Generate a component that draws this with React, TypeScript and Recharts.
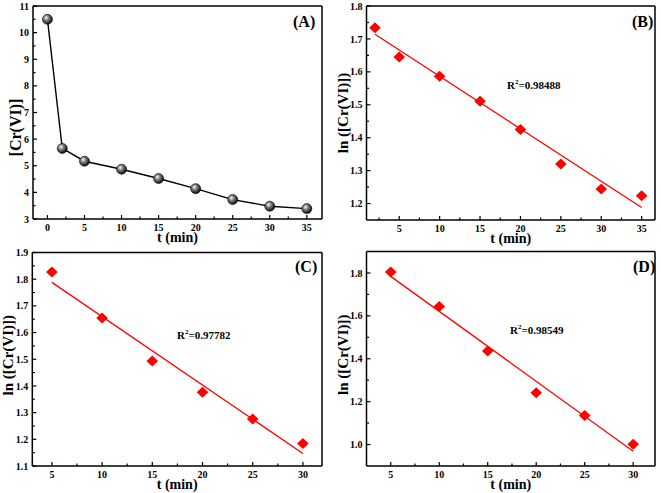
import React from 'react';
import { ScatterChart, Scatter, XAxis, YAxis, ReferenceLine } from 'recharts';

// (A) concentration vs time
const tA = [0, 2, 5, 10, 15, 20, 25, 30, 35];
const crA = [10.5, 5.65, 5.17, 4.87, 4.52, 4.14, 3.73, 3.48, 3.39];

// (B) ln[Cr(VI)] vs time
const tB = [2, 5, 10, 15, 20, 25, 30, 35];
const lnB = [1.734, 1.645, 1.587, 1.511, 1.425, 1.32, 1.244, 1.224];
const fitTB = [2, 35];
const fitLnB = [1.714, 1.188];

// (C)
const tC = [5, 10, 15, 20, 25, 30];
const lnC = [1.827, 1.655, 1.493, 1.376, 1.276, 1.184];
const fitTC = [5, 30];
const fitLnC = [1.788, 1.147];

// (D)
const tD = [5, 10, 15, 20, 25, 30];
const lnD = [1.805, 1.644, 1.436, 1.242, 1.136, 1.001];
const fitTD = [5, 30];
const fitLnD = [1.784, 0.969];

const xLabelsA = [0, 5, 10, 15, 20, 25, 30, 35];
const xMinorA = [2.5, 7.5, 12.5, 17.5, 22.5, 27.5, 32.5];
const yLabelsA = [3, 4, 5, 6, 7, 8, 9, 10, 11];
const yMinorA = [3.5, 4.5, 5.5, 6.5, 7.5, 8.5, 9.5, 10.5];

const xLabelsB = [5, 10, 15, 20, 25, 30, 35];
const xMinorB = [2.5, 7.5, 12.5, 17.5, 22.5, 27.5, 32.5];
const yLabelsB = [1.2, 1.3, 1.4, 1.5, 1.6, 1.7, 1.8];
const yMinorB = [1.25, 1.35, 1.45, 1.55, 1.65, 1.75];

const xLabelsC = [5, 10, 15, 20, 25, 30];
const xMinorC = [7.5, 12.5, 17.5, 22.5, 27.5];
const yLabelsC = [1.1, 1.2, 1.3, 1.4, 1.5, 1.6, 1.7, 1.8, 1.9];
const yMinorC = [1.15, 1.25, 1.35, 1.45, 1.55, 1.65, 1.75, 1.85];

const xLabelsD = [5, 10, 15, 20, 25, 30];
const xMinorD = [7.5, 12.5, 17.5, 22.5, 27.5];
const yLabelsD = [1.0, 1.2, 1.4, 1.6, 1.8];
const yMinorD = [1.1, 1.3, 1.5, 1.7];

const FONT = '"Liberation Serif", "Times New Roman", serif';
const RED = '#ff0000';

const zip = (xs: number[], ys: number[]) => xs.map((x, i) => ({ x, y: ys[i] }));

const Sphere = (p: any) => (
  <g>
    <defs>
      <radialGradient id="sphere" cx="38%" cy="35%" r="65%">
        <stop offset="0%" stopColor="#ffffff" />
        <stop offset="35%" stopColor="#8a8a8a" />
        <stop offset="100%" stopColor="#0a0a0a" />
      </radialGradient>
    </defs>
    <circle cx={p.cx} cy={p.cy} r={5} fill="url(#sphere)" stroke="#000" strokeWidth={0.6} />
  </g>
);

const Diamond = (p: any) => (
  <polygon
    points={`${p.cx},${p.cy - 5.5} ${p.cx + 5.8},${p.cy} ${p.cx},${p.cy + 5.5} ${p.cx - 5.8},${p.cy}`}
    fill={RED}
  />
);

const fmt = (v: number, digits: number) => v.toFixed(digits);

const makeXTick = (labels: number[]) => (p: any) => {
  const axisY = p.y - 8;
  const major = labels.includes(p.payload.value);
  return (
    <g>
      <line x1={p.x} x2={p.x} y1={axisY} y2={axisY - (major ? 4 : 2.5)} stroke="#000" strokeWidth={1.2} />
      {major && (
        <text x={p.x} y={axisY + 12} textAnchor="middle" fontFamily={FONT} fontWeight="bold" fontSize={10} fill="#000">
          {p.payload.value}
        </text>
      )}
    </g>
  );
};

const makeYTick = (labels: number[], digits: number) => (p: any) => {
  const axisX = p.x + 4;
  const v = p.payload.value;
  const major = labels.some((l) => Math.abs(l - v) < 1e-6);
  return (
    <g>
      <line x1={axisX} x2={axisX + (major ? 4 : 2.5)} y1={p.y} y2={p.y} stroke="#000" strokeWidth={1.2} />
      {major && (
        <text x={p.x} y={p.y + 3.6} textAnchor="end" fontFamily={FONT} fontWeight="bold" fontSize={10} fill="#000">
          {fmt(v, digits)}
        </text>
      )}
    </g>
  );
};

type PanelProps = {
  width: number;
  height: number;
  margin: { top: number; right: number; bottom: number; left: number };
  xDomain: [number, number];
  yDomain: [number, number];
  xLabels: number[];
  xMinor: number[];
  yLabels: number[];
  yMinor: number[];
  yDigits: number;
  yTitle: string;
  yTitleSize: number;
  yTitleX: number;
  yTitleShift: number;
  points: { x: number; y: number }[];
  fit?: { x: number; y: number }[];
  sphere?: boolean;
};

function Panel(props: PanelProps) {
  const { margin, xDomain, yDomain } = props;
  return (
    <ScatterChart
      width={props.width}
      height={props.height}
      margin={{ top: margin.top, right: margin.right, bottom: 0, left: 0 }}
    >
      <XAxis
        type="number"
        dataKey="x"
        domain={xDomain}
        allowDataOverflow
        ticks={[...props.xLabels, ...props.xMinor].sort((a, b) => a - b)}
        interval={0}
        tickSize={0}
        tickMargin={8}
        tick={makeXTick(props.xLabels)}
        tickLine={false}
        height={margin.bottom}
        axisLine={{ stroke: '#000', strokeWidth: 1.5 }}
        label={{
          content: (l: any) => {
            const vb = l.viewBox;
            return (
              <text
                x={vb.x + vb.width / 2}
                y={vb.y + 23}
                textAnchor="middle"
                fontFamily={FONT}
                fontWeight="bold"
                fontSize={14}
                fill="#000"
              >
                t (min)
              </text>
            );
          },
        }}
      />
      <YAxis
        type="number"
        dataKey="y"
        domain={yDomain}
        allowDataOverflow
        ticks={[...props.yLabels, ...props.yMinor].sort((a, b) => a - b)}
        interval={0}
        tickSize={0}
        tickMargin={4}
        tick={makeYTick(props.yLabels, props.yDigits)}
        tickLine={false}
        width={margin.left}
        axisLine={{ stroke: '#000', strokeWidth: 1.5 }}
        label={{
          content: (l: any) => {
            const vb = l.viewBox;
            const cx = props.yTitleX;
            const cy = vb.y + vb.height / 2 + props.yTitleShift;
            return (
              <text
                x={cx}
                y={cy}
                transform={`rotate(-90 ${cx} ${cy})`}
                textAnchor="middle"
                dominantBaseline="central"
                fontFamily={FONT}
                fontWeight="bold"
                fontSize={props.yTitleSize}
                fill="#000"
              >
                {props.yTitle}
              </text>
            );
          },
        }}
      />
      <ReferenceLine y={yDomain[1]} stroke="#000" strokeWidth={1.5} />
      <ReferenceLine x={xDomain[1]} stroke="#000" strokeWidth={1.5} />
      {props.fit && (
        <Scatter
          data={props.fit}
          line={{ stroke: RED, strokeWidth: 1.3 }}
          shape={() => <g />}
          isAnimationActive={false}
        />
      )}
      {props.sphere ? (
        <Scatter
          data={props.points}
          line={{ stroke: '#000', strokeWidth: 1.4 }}
          shape={Sphere}
          isAnimationActive={false}
        />
      ) : (
        <Scatter data={props.points} shape={Diamond} isAnimationActive={false} />
      )}
    </ScatterChart>
  );
}

const tagStyle: React.CSSProperties = {
  position: 'absolute',
  fontFamily: FONT,
  fontWeight: 'bold',
  fontSize: 16,
  lineHeight: '16px',
  color: '#000',
};

const r2Style: React.CSSProperties = {
  position: 'absolute',
  fontFamily: FONT,
  fontWeight: 'bold',
  fontSize: 11,
  lineHeight: '12px',
  color: '#000',
  whiteSpace: 'nowrap',
};

const R2 = ({ v }: { v: string }) => (
  <>
    R<sup style={{ fontSize: 7, verticalAlign: 'top', lineHeight: '7px' }}>2</sup>={v}
  </>
);

export default function App() {
  return (
    <div style={{ position: 'absolute', left: 0, top: 0, width: 661, height: 493, background: '#fff' }}>
      <div style={{ position: 'absolute', left: 0, top: 0 }}>
        <Panel
          width={330}
          height={250}
          margin={{ top: 6, right: 8, bottom: 31, left: 33 }}
          xDomain={[-1.95, 37.05]}
          yDomain={[3, 11]}
          xLabels={xLabelsA}
          xMinor={xMinorA}
          yLabels={yLabelsA}
          yMinor={yMinorA}
          yDigits={0}
          yTitle="[Cr(VI)]"
          yTitleSize={16}
          yTitleX={15}
          yTitleShift={15}
          points={zip(tA, crA)}
          sphere
        />
      </div>
      <div style={{ position: 'absolute', left: 330, top: 0 }}>
        <Panel
          width={331}
          height={250}
          margin={{ top: 6, right: 6, bottom: 30, left: 36.5 }}
          xDomain={[0.95, 36.65]}
          yDomain={[1.15, 1.8]}
          xLabels={xLabelsB}
          xMinor={xMinorB}
          yLabels={yLabelsB}
          yMinor={yMinorB}
          yDigits={1}
          yTitle="ln ([Cr(VI)])"
          yTitleSize={15}
          yTitleX={12.5}
          yTitleShift={0}
          points={zip(tB, lnB)}
          fit={zip(fitTB, fitLnB)}
        />
      </div>
      <div style={{ position: 'absolute', left: 0, top: 245 }}>
        <Panel
          width={330}
          height={248}
          margin={{ top: 7.5, right: 8, bottom: 27, left: 32.3 }}
          xDomain={[3.05, 31.9]}
          yDomain={[1.1, 1.9]}
          xLabels={xLabelsC}
          xMinor={xMinorC}
          yLabels={yLabelsC}
          yMinor={yMinorC}
          yDigits={1}
          yTitle="ln ([Cr(VI)])"
          yTitleSize={15}
          yTitleX={8}
          yTitleShift={-4}
          points={zip(tC, lnC)}
          fit={zip(fitTC, fitLnC)}
        />
      </div>
      <div style={{ position: 'absolute', left: 330, top: 245 }}>
        <Panel
          width={331}
          height={248}
          margin={{ top: 6.5, right: 6, bottom: 27, left: 36.5 }}
          xDomain={[2.5, 32.25]}
          yDomain={[0.9, 1.9]}
          xLabels={xLabelsD}
          xMinor={xMinorD}
          yLabels={yLabelsD}
          yMinor={yMinorD}
          yDigits={1}
          yTitle="ln ([Cr(VI)])"
          yTitleSize={15}
          yTitleX={13}
          yTitleShift={-4}
          points={zip(tD, lnD)}
          fit={zip(fitTD, fitLnD)}
        />
      </div>

      <div style={{ ...tagStyle, left: 293, top: 14 }}>(A)</div>
      <div style={{ ...tagStyle, left: 632, top: 14 }}>(B)</div>
      <div style={{ ...tagStyle, left: 295, top: 259 }}>(C)</div>
      <div style={{ ...tagStyle, left: 633, top: 259 }}>(D)</div>

      <div style={{ ...r2Style, left: 507, top: 79 }}>
        <R2 v="0.98488" />
      </div>
      <div style={{ ...r2Style, left: 177, top: 329 }}>
        <R2 v="0.97782" />
      </div>
      <div style={{ ...r2Style, left: 510, top: 324 }}>
        <R2 v="0.98549" />
      </div>
    </div>
  );
}
